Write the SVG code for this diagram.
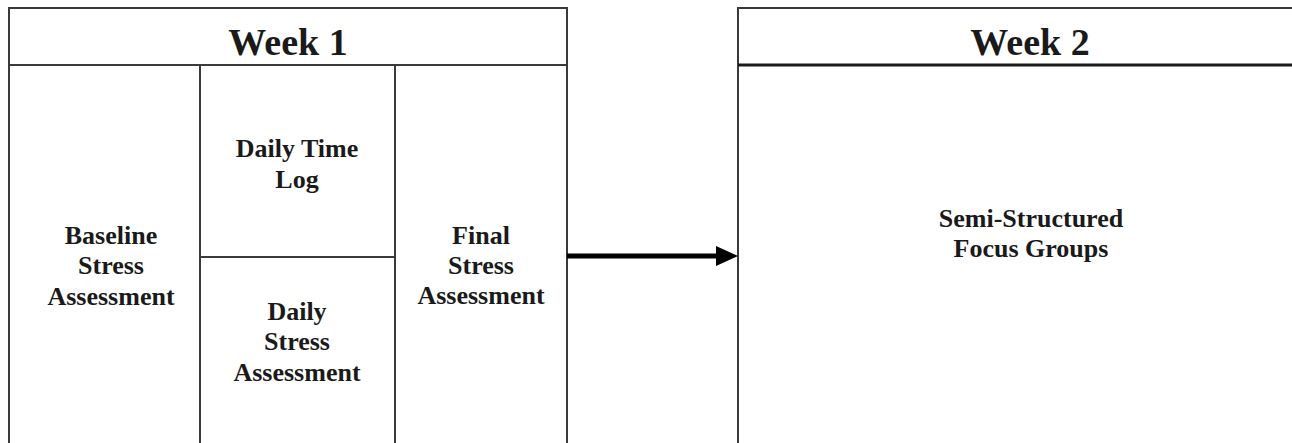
<svg xmlns="http://www.w3.org/2000/svg" width="1292" height="443" viewBox="0 0 1292 443">
<style>
.box{fill:none;stroke:#3a3a3a;stroke-width:2}
.hdr{font-family:"Liberation Serif","Times New Roman",serif;font-weight:bold;font-size:38px;fill:#1a1a1a;text-anchor:middle}
.t{font-family:"Liberation Serif","Times New Roman",serif;font-weight:bold;font-size:26px;fill:#1a1a1a;text-anchor:middle}
</style>
<rect width="1292" height="443" fill="#fff"/>
<g id="week1">
<path class="box" d="M9,450 V8 H567 V450 M9,65 H567"/>
<text class="hdr" x="288" y="55">Week 1</text>
</g>
<g id="baseline">
<text class="t" x="111" y="244">Baseline</text>
<text class="t" x="111" y="274">Stress</text>
<text class="t" x="111" y="305">Assessment</text>
</g>
<g id="timelog">
<path class="box" d="M200,65 V450 M200,257 H395"/>
<text class="t" x="297" y="157">Daily Time</text>
<text class="t" x="297" y="188">Log</text>
</g>
<g id="dailystress">
<text class="t" x="297" y="320">Daily</text>
<text class="t" x="297" y="350">Stress</text>
<text class="t" x="297" y="381">Assessment</text>
</g>
<g id="final">
<path class="box" d="M395,65 V450"/>
<text class="t" x="481" y="244">Final</text>
<text class="t" x="481" y="274">Stress</text>
<text class="t" x="481" y="304">Assessment</text>
</g>
<g id="week2">
<path class="box" d="M738,450 V8 H1300"/>
<path d="M738,65 H1300" stroke="#1a1a1a" stroke-width="3" fill="none"/>
<text class="hdr" x="1030" y="55">Week 2</text>
<text class="t" x="1031" y="227">Semi-Structured</text>
<text class="t" x="1031" y="257">Focus Groups</text>
</g>
<g id="connectors">
<line x1="567" y1="256" x2="718" y2="256" stroke="#000" stroke-width="5"/>
<path d="M716,246 L738,256 L716,266 Z" fill="#000"/>
</g>
</svg>
